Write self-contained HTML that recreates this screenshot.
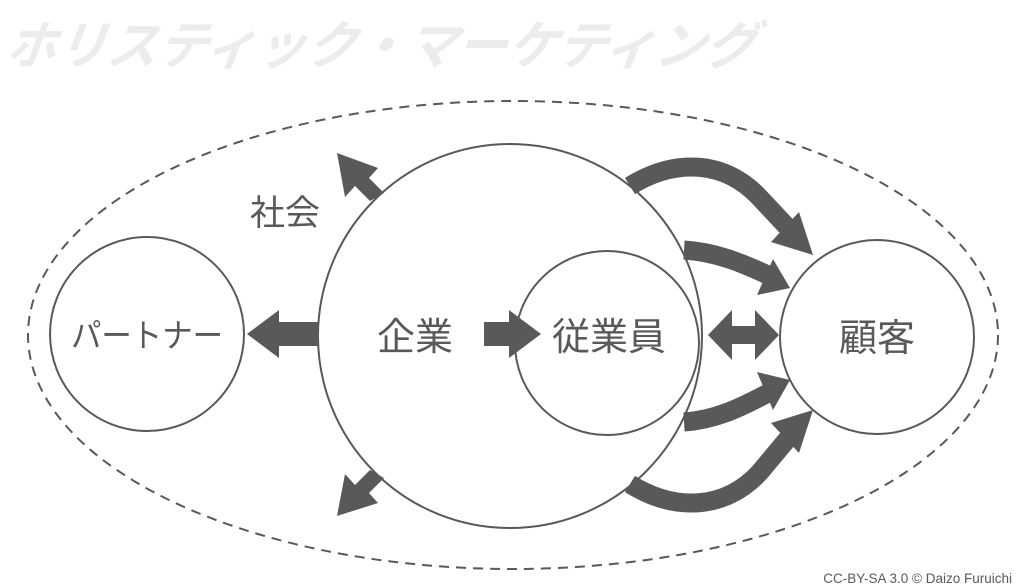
<!DOCTYPE html>
<html><head><meta charset="utf-8"><style>
html,body{margin:0;padding:0;background:#fff;width:1024px;height:587px;overflow:hidden}
svg{display:block}
text{font-family:"Liberation Sans","Noto Sans CJK JP",sans-serif}
</style></head><body>
<svg width="1024" height="587" viewBox="0 0 1024 587" xmlns="http://www.w3.org/2000/svg">
<text x="5" y="64" font-size="52" font-weight="bold" font-style="italic" fill="#ececec" textLength="750" lengthAdjust="spacingAndGlyphs" transform="skewX(-8) translate(8,0)">ホリスティック・マーケティング</text>
<ellipse cx="513" cy="335" rx="485" ry="234" fill="none" stroke="#595959" stroke-width="2" stroke-dasharray="10,7"/>
<circle cx="147" cy="334" r="97" fill="#fff" stroke="#595959" stroke-width="2"/>
<circle cx="510" cy="336" r="192" fill="#fff" stroke="#595959" stroke-width="2"/>
<circle cx="607" cy="343" r="92" fill="#fff" stroke="#595959" stroke-width="2"/>
<circle cx="877" cy="337" r="97" fill="#fff" stroke="#595959" stroke-width="2"/>
<g fill="#595959">
<polygon points="319,322 279,322 279,310 247,334 279,358 279,346 319,346"/>
<polygon points="484,322 509,322 509,310 541,334 509,358 509,346 484,346"/>
<polygon points="708,335 732,310 732,326 755,326 755,310 779,335 755,360 755,344 732,344 732,360"/>
<polygon points="384,193 369,178 378,168 337,153 345,197 355,186 370,201"/>
<polygon points="384,478 369,493 378,503 337,516 345,474 355,485 370,470"/>
<polygon points="813,255 799,212 771,242"/>
<polygon points="790,288 773,259 757,295"/>
<polygon points="790,380 757,372 773,410"/>
<polygon points="813,410 771,423 799,453"/>
</g>
<g fill="none" stroke="#595959" stroke-width="19">
<path d="M630,186 C675,158 725,160 760,198 L790,230"/>
<path d="M684,250 C715,252 740,262 770,276"/>
<path d="M684,422 C715,420 740,408 770,392"/>
<path d="M630,484 C675,512 725,510 760,472 L790,436"/>
</g>
<g fill="#595959" font-size="38" text-anchor="middle">
<text x="147" y="347" font-size="33" textLength="152" lengthAdjust="spacingAndGlyphs">パートナー</text>
<text x="415" y="350">企業</text>
<text x="609" y="350">従業員</text>
<text x="877" y="351">顧客</text>
<text x="285" y="225" font-size="35">社会</text>
</g>
<text x="1012" y="583" font-size="13.5" fill="#595959" text-anchor="end">CC-BY-SA 3.0 © Daizo Furuichi</text>
</svg>
</body></html>
